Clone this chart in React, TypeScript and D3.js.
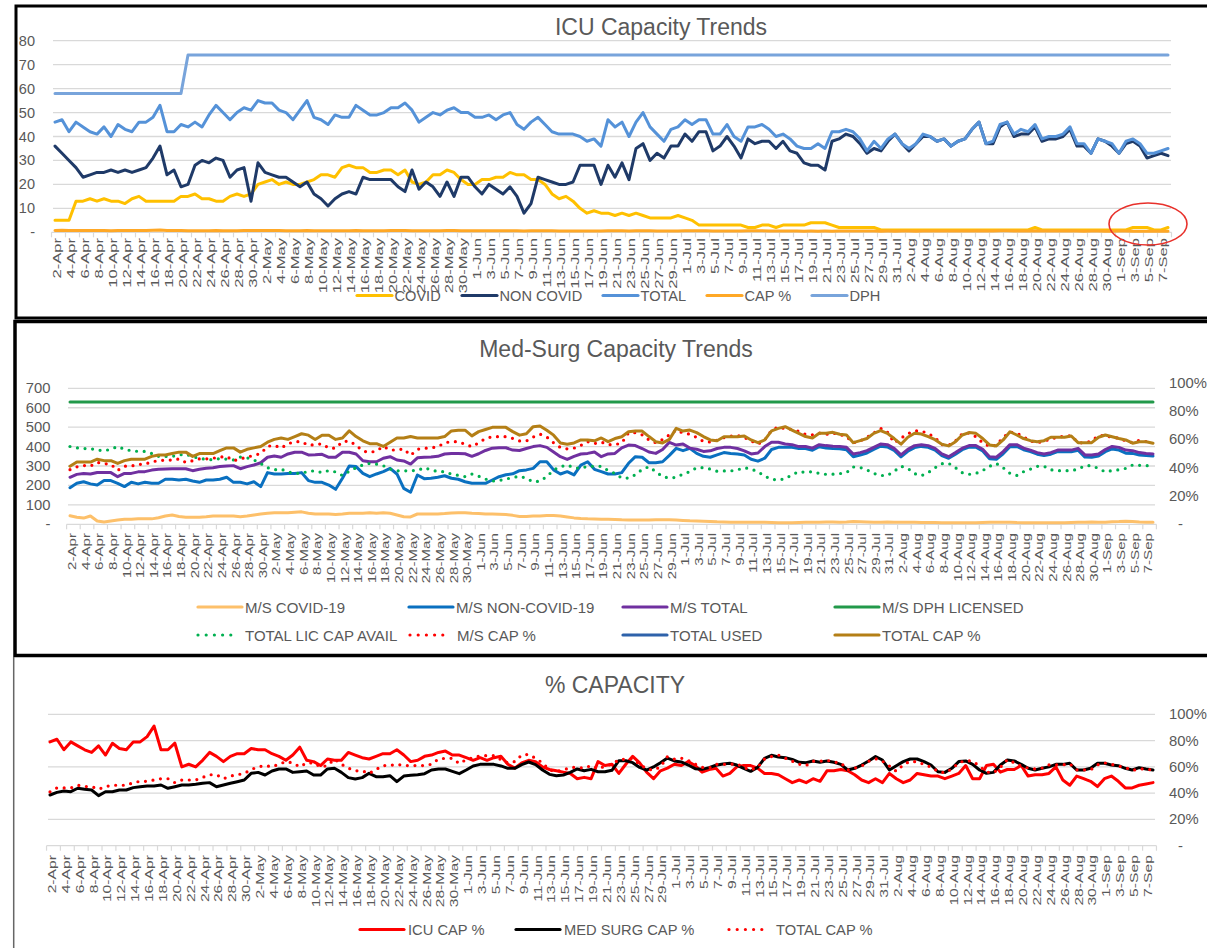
import React from "react";
import * as d3 from "d3";

// categories: one per day, 2-Apr .. 8-Sep
const DAYS = d3.timeDay.range(new Date(2020, 3, 2), new Date(2020, 8, 9));
const DATE_LABELS = DAYS.map(d3.timeFormat("%-d-%b"));

// ---- ICU ----
const ICU_COVID = [
  5, 5, 5, 13, 13, 14, 13, 14, 13, 13, 12, 14, 15, 13, 13, 13, 13, 13, 15, 15,
  16, 14, 14, 13, 13, 15, 16, 15, 16, 20, 21, 22, 20, 21, 20, 20, 21, 22, 24, 24,
  23, 27, 28, 27, 27, 25, 25, 26, 26, 24, 26, 21, 20, 21, 24, 24, 26, 25, 22, 20,
  20, 22, 22, 23, 23, 25, 24, 24, 22, 22, 20, 16, 14, 15, 13, 10, 8, 9, 8, 8,
  7, 8, 7, 8, 7, 6, 6, 6, 6, 7, 6, 5, 3, 3, 3, 3, 3, 3, 3, 2,
  2, 3, 3, 2, 3, 3, 3, 3, 4, 4, 4, 3, 2, 2, 2, 2, 2, 2, 1, 1,
  1, 1, 1, 1, 1, 1, 1, 1, 1, 1, 1, 1, 1, 1, 1, 1, 1, 1, 1, 1,
  2, 1, 1, 1, 1, 1, 1, 1, 1, 1, 1, 1, 1, 1, 2, 2, 2, 1, 1, 2,
];
const ICU_NON_COVID = [
  36, 33, 30, 27, 23, 24, 25, 25, 26, 25, 26, 25, 26, 27, 31, 36, 24, 26, 19, 20,
  28, 30, 29, 31, 30, 23, 26, 27, 13, 29, 25, 24, 23, 23, 21, 19, 21, 16, 14, 11,
  14, 16, 17, 16, 23, 22, 22, 22, 22, 19, 17, 26, 18, 21, 19, 15, 21, 15, 23, 23,
  19, 16, 20, 18, 16, 19, 15, 8, 12, 23, 22, 21, 20, 20, 21, 28, 28, 28, 20, 28,
  23, 29, 22, 35, 37, 30, 33, 31, 36, 36, 41, 38, 42, 42, 34, 36, 40, 36, 31, 39,
  37, 38, 38, 35, 38, 34, 33, 29, 28, 28, 26, 38, 39, 41, 40, 37, 33, 35, 34, 38,
  41, 37, 34, 37, 40, 40, 38, 39, 36, 38, 39, 43, 46, 37, 37, 44, 46, 40, 41, 41,
  44, 38, 39, 39, 40, 43, 36, 36, 33, 39, 38, 36, 33, 37, 38, 36, 31, 32, 33, 32,
];
const ICU_TOTAL = [
  46, 47, 42, 46, 44, 42, 41, 44, 40, 45, 43, 42, 46, 46, 48, 53, 42, 42, 45, 44,
  46, 44, 49, 53, 50, 47, 50, 52, 51, 55, 54, 54, 51, 50, 47, 51, 55, 48, 47, 45,
  49, 48, 48, 53, 51, 49, 49, 50, 52, 52, 54, 51, 46, 48, 50, 49, 51, 52, 50, 50,
  48, 48, 49, 47, 49, 50, 45, 43, 46, 48, 45, 42, 41, 41, 41, 40, 38, 39, 36, 47,
  44, 46, 40, 46, 50, 44, 41, 38, 43, 44, 47, 45, 47, 47, 41, 41, 45, 40, 38, 44,
  44, 45, 43, 40, 41, 39, 36, 35, 35, 37, 35, 42, 42, 43, 42, 39, 34, 38, 35, 39,
  41, 37, 35, 37, 41, 40, 38, 39, 36, 38, 39, 43, 46, 37, 38, 45, 46, 41, 43, 42,
  45, 39, 40, 40, 41, 44, 37, 37, 33, 39, 38, 37, 33, 38, 39, 37, 33, 33, 34, 35,
];
const ICU_DPH = [
  58, 58, 58, 58, 58, 58, 58, 58, 58, 58, 58, 58, 58, 58, 58, 58, 58, 58, 58, 74,
  74, 74, 74, 74, 74, 74, 74, 74, 74, 74, 74, 74, 74, 74, 74, 74, 74, 74, 74, 74,
  74, 74, 74, 74, 74, 74, 74, 74, 74, 74, 74, 74, 74, 74, 74, 74, 74, 74, 74, 74,
  74, 74, 74, 74, 74, 74, 74, 74, 74, 74, 74, 74, 74, 74, 74, 74, 74, 74, 74, 74,
  74, 74, 74, 74, 74, 74, 74, 74, 74, 74, 74, 74, 74, 74, 74, 74, 74, 74, 74, 74,
  74, 74, 74, 74, 74, 74, 74, 74, 74, 74, 74, 74, 74, 74, 74, 74, 74, 74, 74, 74,
  74, 74, 74, 74, 74, 74, 74, 74, 74, 74, 74, 74, 74, 74, 74, 74, 74, 74, 74, 74,
  74, 74, 74, 74, 74, 74, 74, 74, 74, 74, 74, 74, 74, 74, 74, 74, 74, 74, 74, 74,
];
// ICU CAP % (fraction) – shown in ICU panel and % CAPACITY panel
const ICU_CAP = [
  .79, .81, .73, .79, .76, .73, .71, .76, .69, .78, .74, .73, .79, .79, .83, .91, .73, .73, .78, .60,
  .62, .60, .65, .71, .68, .64, .68, .70, .70, .74, .73, .73, .70, .68, .65, .69, .75, .65, .64, .61,
  .66, .65, .65, .71, .69, .67, .66, .68, .70, .70, .73, .69, .64, .65, .68, .69, .71, .72, .69, .69,
  .67, .65, .67, .65, .67, .68, .62, .59, .63, .65, .64, .60, .58, .57, .56, .55, .51, .52, .51, .64,
  .61, .62, .55, .62, .68, .63, .56, .51, .57, .59, .62, .61, .64, .61, .56, .58, .59, .53, .55, .60,
  .61, .61, .59, .55, .55, .54, .51, .48, .50, .48, .51, .49, .57, .57, .58, .57, .54, .50, .48, .51,
  .48, .55, .51, .48, .50, .55, .54, .53, .53, .51, .53, .55, .61, .51, .51, .61, .62, .56, .58, .58,
  .61, .53, .54, .54, .55, .60, .50, .46, .53, .51, .49, .45, .51, .53, .49, .44, .44, .46, .47, .48,
];

// ---- Med-Surg ----
const MS_COVID = [
  44, 36, 32, 43, 17, 12, 17, 22, 26, 26, 28, 28, 28, 34, 43, 48, 40, 36, 36, 36,
  39, 43, 43, 43, 43, 39, 43, 48, 53, 57, 60, 60, 60, 62, 64, 57, 53, 53, 53, 50,
  53, 57, 57, 57, 60, 57, 60, 57, 48, 39, 38, 53, 53, 53, 53, 55, 58, 60, 60, 57,
  55, 53, 53, 52, 50, 46, 40, 40, 43, 43, 45, 45, 43, 38, 33, 30, 28, 27, 26, 26,
  25, 23, 22, 22, 22, 22, 23, 24, 24, 22, 20, 18, 17, 16, 15, 13, 12, 11, 11, 11,
  11, 11, 10, 9, 8, 8, 8, 9, 10, 11, 11, 12, 12, 11, 12, 14, 13, 12, 11, 11,
  12, 11, 10, 10, 10, 9, 9, 9, 8, 8, 8, 8, 8, 8, 9, 10, 10, 11, 11, 9,
  8, 8, 8, 8, 8, 8, 8, 9, 10, 11, 12, 11, 11, 13, 14, 16, 14, 12, 11, 11,
];
const MS_NON_COVID = [
  188, 211, 219, 208, 202, 225, 225, 211, 194, 216, 208, 216, 211, 211, 232, 232, 228, 232, 223, 216,
  228, 228, 232, 242, 216, 216, 208, 219, 194, 266, 259, 259, 262, 262, 266, 225, 216, 216, 202, 180,
  237, 300, 297, 262, 245, 259, 271, 288, 259, 185, 165, 254, 235, 237, 242, 250, 237, 232, 219, 211,
  211, 211, 228, 245, 255, 260, 276, 280, 288, 322, 322, 280, 259, 271, 254, 305, 322, 283, 271, 259,
  259, 266, 314, 348, 345, 317, 317, 322, 355, 391, 379, 391, 365, 350, 345, 357, 369, 365, 362, 357,
  335, 325, 340, 385, 396, 396, 396, 390, 390, 381, 399, 393, 390, 389, 384, 348, 356, 367, 385, 402,
  398, 380, 347, 376, 395, 401, 396, 382, 354, 340, 361, 384, 397, 397, 377, 338, 335, 363, 399, 401,
  384, 374, 361, 354, 361, 374, 374, 373, 381, 346, 345, 351, 374, 388, 382, 366, 365, 357, 354, 351,
];
const MS_TOTAL = [
  242, 257, 262, 259, 267, 267, 266, 245, 262, 262, 270, 271, 279, 283, 285, 286, 286, 286, 276, 283,
  288, 291, 297, 300, 302, 286, 297, 305, 317, 345, 352, 345, 362, 371, 371, 357, 358, 360, 345, 345,
  371, 371, 362, 327, 322, 322, 340, 348, 331, 326, 310, 342, 345, 347, 350, 362, 365, 365, 363, 350,
  363, 380, 392, 394, 394, 382, 380, 390, 400, 405, 396, 372, 348, 334, 350, 362, 365, 372, 348, 362,
  365, 393, 408, 405, 390, 372, 365, 385, 422, 408, 413, 392, 386, 375, 378, 390, 396, 396, 390, 378,
  362, 367, 400, 422, 422, 413, 410, 400, 400, 392, 410, 405, 402, 400, 396, 362, 369, 379, 396, 413,
  410, 391, 357, 386, 405, 410, 405, 391, 362, 348, 369, 392, 405, 405, 386, 348, 345, 374, 410, 410,
  392, 382, 369, 362, 369, 382, 382, 382, 391, 357, 357, 362, 385, 401, 396, 382, 379, 369, 365, 362,
];
const MS_DPH_LICENSED = [
  630, 630, 630, 630, 630, 630, 630, 630, 630, 630, 630, 630, 630, 630, 630, 630, 630, 630, 630, 630,
  630, 630, 630, 630, 630, 630, 630, 630, 630, 630, 630, 630, 630, 630, 630, 630, 630, 630, 630, 630,
  630, 630, 630, 630, 630, 630, 630, 630, 630, 630, 630, 630, 630, 630, 630, 630, 630, 630, 630, 630,
  630, 630, 630, 630, 630, 630, 630, 630, 630, 630, 630, 630, 630, 630, 630, 630, 630, 630, 630, 630,
  630, 630, 630, 630, 630, 630, 630, 630, 630, 630, 630, 630, 630, 630, 630, 630, 630, 630, 630, 630,
  630, 630, 630, 630, 630, 630, 630, 630, 630, 630, 630, 630, 630, 630, 630, 630, 630, 630, 630, 630,
  630, 630, 630, 630, 630, 630, 630, 630, 630, 630, 630, 630, 630, 630, 630, 630, 630, 630, 630, 630,
  630, 630, 630, 630, 630, 630, 630, 630, 630, 630, 630, 630, 630, 630, 630, 630, 630, 630, 630, 630,
];
const TOTAL_LIC_CAP_AVAIL = [
  .55, .54, .535, .535, .525, .52, .53, .55, .53, .52, .515, .515, .50, .48, .48, .48, .49, .495, .48, .465,
  .46, .455, .465, .46, .455, .475, .47, .455, .43, .40, .385, .39, .37, .36, .36, .375, .378, .365, .38, .37,
  .345, .375, .40, .42, .43, .425, .414, .39, .378, .377, .38, .38, .40, .385, .372, .372, .355, .346, .337, .355,
  .34, .32, .305, .31, .32, .33, .34, .325, .30, .305, .337, .384, .407, .419, .40, .396, .41, .41, .41, .38,
  .36, .327, .327, .35, .388, .407, .372, .337, .327, .332, .355, .372, .40, .40, .39, .375, .377, .377, .385, .40,
  .39, .372, .34, .318, .313, .322, .35, .372, .367, .372, .36, .353, .354, .358, .365, .405, .402, .385, .36, .345,
  .345, .375, .41, .395, .358, .344, .365, .40, .428, .431, .40, .365, .353, .36, .38, .41, .43, .40, .36, .345,
  .372, .39, .41, .41, .385, .379, .379, .379, .39, .414, .414, .395, .37, .38, .385, .395, .419, .417, .414, .414,
];
// M/S CAP % == MED SURG CAP %
const MS_CAP = [
  .386, .406, .416, .411, .437, .429, .424, .381, .411, .411, .424, .424, .442, .449, .454, .454, .462, .437, .449, .462,
  .462, .467, .475, .48, .449, .462, .475, .487, .50, .551, .558, .538, .569, .584, .584, .558, .563, .569, .538, .538,
  .584, .589, .558, .518, .508, .518, .551, .525, .525, .533, .487, .53, .537, .54, .548, .576, .584, .584, .566, .548,
  .576, .607, .619, .619, .619, .607, .589, .589, .617, .637, .617, .576, .543, .533, .538, .558, .584, .571, .581, .563,
  .563, .574, .647, .647, .632, .596, .576, .599, .632, .667, .645, .637, .614, .586, .581, .594, .612, .622, .627, .614,
  .589, .566, .596, .665, .688, .675, .67, .657, .635, .632, .645, .635, .645, .635, .619, .576, .589, .614, .645, .678,
  .652, .576, .609, .64, .66, .66, .64, .614, .563, .558, .589, .64, .645, .619, .576, .551, .558, .614, .652, .645,
  .619, .589, .576, .589, .60, .619, .619, .627, .576, .576, .589, .627, .627, .614, .609, .589, .576, .594, .584, .576,
];
// TOTAL CAP %
const TOTAL_CAP = [
  .41, .44, .44, .44, .46, .45, .45, .43, .45, .46, .46, .46, .48, .49, .49, .50, .51, .51, .48, .50,
  .50, .50, .52, .54, .54, .51, .53, .54, .55, .58, .60, .61, .60, .62, .64, .63, .60, .63, .63, .60,
  .61, .66, .62, .59, .57, .57, .55, .58, .61, .61, .62, .61, .61, .61, .61, .62, .66, .665, .665, .625,
  .655, .67, .685, .685, .685, .655, .63, .64, .69, .695, .665, .63, .575, .566, .575, .596, .596, .59, .61, .584,
  .606, .619, .654, .659, .659, .62, .584, .575, .60, .678, .659, .666, .648, .62, .596, .591, .619, .619, .619, .624,
  .596, .577, .596, .66, .678, .69, .666, .643, .62, .61, .643, .643, .65, .636, .631, .577, .591, .606, .643, .662,
  .643, .606, .566, .615, .643, .638, .619, .598, .566, .554, .584, .631, .648, .643, .606, .561, .554, .596, .654, .631,
  .606, .591, .584, .591, .615, .615, .615, .624, .577, .577, .577, .615, .631, .619, .606, .596, .573, .584, .584, .573,
];

const FONT = "'Liberation Sans', Arial, Helvetica, sans-serif";
const TXT = "#595959";
const GRID = "#d9d9d9";

type Series = { name: string; values: number[] | null; color: string; width: number; dotted?: boolean; right?: boolean };

const ICU_SERIES: Series[] = [
  { name: "COVID", values: ICU_COVID, color: "#FFC000", width: 3 },
  { name: "NON COVID", values: ICU_NON_COVID, color: "#1F3A68", width: 3 },
  { name: "TOTAL", values: ICU_TOTAL, color: "#5592D8", width: 3 },
  { name: "CAP %", values: ICU_CAP, color: "#FFA826", width: 3 },
  { name: "DPH", values: ICU_DPH, color: "#78A4DB", width: 3 },
];
const ICU_LEGEND_X = [357, 462, 603, 707, 812];

const MS_SERIES: Series[] = [
  { name: "M/S COVID-19", values: MS_COVID, color: "#FDC06A", width: 3 },
  { name: "M/S NON-COVID-19", values: MS_NON_COVID, color: "#0A70C0", width: 3 },
  { name: "M/S TOTAL", values: MS_TOTAL, color: "#7030A0", width: 3 },
  { name: "M/S DPH LICENSED", values: MS_DPH_LICENSED, color: "#22994A", width: 3 },
  { name: "TOTAL LIC CAP AVAIL", values: TOTAL_LIC_CAP_AVAIL, color: "#00B050", width: 3, dotted: true, right: true },
  { name: "M/S CAP %", values: MS_CAP, color: "#FF0000", width: 3, dotted: true, right: true },
  { name: "TOTAL USED", values: null, color: "#2E62AA", width: 3 },
  { name: "TOTAL CAP %", values: TOTAL_CAP, color: "#B47F16", width: 3, right: true },
];
const MS_LEGEND_POS = [[198, 607], [409, 607], [623, 607], [835, 607], [198, 635], [410, 635], [623, 635], [835, 635]];

const PCT_SERIES: Series[] = [
  { name: "ICU CAP %", values: ICU_CAP, color: "#FF0000", width: 3 },
  { name: "MED SURG CAP %", values: MS_CAP, color: "#000000", width: 3 },
  { name: "TOTAL CAP %", values: TOTAL_CAP, color: "#FF0000", width: 3, dotted: true },
];
const PCT_LEGEND_X = [360, 516, 729];

function SeriesPath({ s, x, y }: { s: Series; x: any; y: any }) {
  if (!s.values) return null;
  const line = d3.line<number>().x((_, i) => x(i)).y((d) => y(d));
  return (
    <path d={line(s.values) || ""} fill="none" stroke={s.color} strokeWidth={s.dotted ? 3.2 : s.width}
      strokeLinejoin="round" strokeLinecap="round" strokeDasharray={s.dotted ? "0 7.6" : undefined} />
  );
}

function LegendItem({ s, x, y, len, gap, size }: { s: Series; x: number; y: number; len: number; gap: number; size: number }) {
  return (
    <g>
      <line x1={x} x2={x + len} y1={y} y2={y} stroke={s.color} strokeWidth={s.dotted ? 3.2 : 3.2}
        strokeLinecap="round" strokeDasharray={s.dotted ? "0 8.2" : undefined} />
      <text x={x + len + gap} y={y} dominantBaseline="central" fontSize={size} fill={TXT}>{s.name}</text>
    </g>
  );
}

function CategoryAxis({ x, y, labelY, size, sx }: { x: any; y: number; labelY: number; size: number; sx: number }) {
  const n = DATE_LABELS.length;
  const step = x(1) - x(0);
  const ticks = d3.range(0, n + 1, 2).map((i) => x(0) + (i - 0.5) * step);
  return (
    <g>
      <line x1={x(0) - step / 2} x2={x(n - 1) + step / 2} y1={y} y2={y} stroke={GRID} strokeWidth={1.3} />
      {ticks.map((t, k) => (
        <line key={k} x1={t} x2={t} y1={y} y2={y + 5} stroke={GRID} strokeWidth={1.2} />
      ))}
      {DATE_LABELS.map((lab, i) =>
        i % 2 === 0 ? (
          <text key={i} transform={`translate(${x(i) + 2.5},${labelY}) rotate(-90) scale(${sx},1)`}
            textAnchor="end" dominantBaseline="central" fontSize={size} fill={TXT}>{lab}</text>
        ) : null
      )}
    </g>
  );
}

export default function App() {
  const n = DATE_LABELS.length;

  // ICU panel scales
  const xA = d3.scaleLinear().domain([0, n - 1]).range([55, 1168]);
  const yA = d3.scaleLinear().domain([0, 80]).range([232.3, 40.7]);
  // Med-Surg panel scales
  const xB = d3.scaleLinear().domain([0, n - 1]).range([70, 1153]);
  const yB = d3.scaleLinear().domain([0, 700]).range([524.3, 388.3]);
  const yBR = d3.scaleLinear().domain([0, 1]).range([524.3, 382.8]);
  // % capacity panel scales
  const xC = d3.scaleLinear().domain([0, n - 1]).range([50, 1153]);
  const yC = d3.scaleLinear().domain([0, 1]).range([845.7, 714.3]);

  const pct = (v: number) => (v === 0 ? "-" : `${Math.round(v * 100)}%`);

  return (
    <svg width={1207} height={948} style={{ position: "absolute", left: 0, top: 0, background: "#fff" }}
      fontFamily={FONT}>
      <rect x={0} y={0} width={1207} height={948} fill="#fff" />

      {/* ===== ICU Capacity Trends ===== */}
      <g>
        {d3.range(10, 81, 10).map((v) => (
          <line key={v} x1={53} x2={1171} y1={yA(v)} y2={yA(v)} stroke={GRID} strokeWidth={1.3} />
        ))}
        {d3.range(0, 81, 10).map((v) => (
          <text key={v} x={35} y={yA(v)} textAnchor="end" dominantBaseline="central" fontSize={14.5} fill={TXT}>
            {v === 0 ? "-" : v}
          </text>
        ))}
        <CategoryAxis x={xA} y={232.3} labelY={238} size={10} sx={1.66} />
        {ICU_SERIES.map((s) => <SeriesPath key={s.name} s={s} x={xA} y={yA} />)}
        <ellipse cx={1148} cy={224} rx={39} ry={21} fill="none" stroke="#E8312B" strokeWidth={1.6} />
        <text x={661} y={27} textAnchor="middle" dominantBaseline="central" fontSize={23} fill={TXT}>ICU Capacity Trends</text>
        {ICU_SERIES.map((s, k) => (
          <LegendItem key={s.name} s={s} x={ICU_LEGEND_X[k]} y={295.5} len={35} gap={2.5} size={14.6} />
        ))}
        <rect x={16} y={6} width={1200} height={312} fill="none" stroke="#000" strokeWidth={3} />
      </g>

      {/* ===== Med-Surg Capacity Trends ===== */}
      <g>
        {d3.range(100, 701, 100).map((v) => (
          <line key={v} x1={68} x2={1155} y1={yB(v)} y2={yB(v)} stroke={GRID} strokeWidth={1.3} />
        ))}
        {d3.range(0, 701, 100).map((v) => (
          <text key={v} x={50.5} y={yB(v)} textAnchor="end" dominantBaseline="central" fontSize={14.8} fill={TXT}>
            {v === 0 ? "-" : v}
          </text>
        ))}
        {d3.range(0, 1.01, 0.2).map((v) => (
          <text key={v} x={v === 0 ? 1178 : 1169} y={yBR(v)} dominantBaseline="central" fontSize={14.8} fill={TXT}>
            {pct(v)}
          </text>
        ))}
        <CategoryAxis x={xB} y={524.3} labelY={533} size={10.5} sx={1.44} />
        {MS_SERIES.map((s) => <SeriesPath key={s.name} s={s} x={xB} y={s.right ? yBR : yB} />)}
        <text x={616} y={349} textAnchor="middle" dominantBaseline="central" fontSize={23} fill={TXT}>Med-Surg Capacity Trends</text>
        {MS_SERIES.map((s, k) => (
          <LegendItem key={s.name} s={s} x={MS_LEGEND_POS[k][0]} y={MS_LEGEND_POS[k][1]}
            len={s.dotted ? 36 : 44} gap={s.dotted ? 11 : 3} size={15} />
        ))}
        <rect x={15} y={321.5} width={1200} height={334} fill="none" stroke="#000" strokeWidth={3.5} />
      </g>

      {/* ===== % CAPACITY ===== */}
      <g>
        {d3.range(0.2, 1.01, 0.2).map((v) => (
          <line key={v} x1={48} x2={1155} y1={yC(v)} y2={yC(v)} stroke={GRID} strokeWidth={1.3} />
        ))}
        {d3.range(0, 1.01, 0.2).map((v) => (
          <text key={v} x={v === 0 ? 1178 : 1169} y={yC(v)} dominantBaseline="central" fontSize={14.8} fill={TXT}>
            {pct(v)}
          </text>
        ))}
        <CategoryAxis x={xC} y={845.7} labelY={855} size={10} sx={1.57} />
        {PCT_SERIES.map((s) => <SeriesPath key={s.name} s={s} x={xC} y={yC} />)}
        <text x={615} y={685} textAnchor="middle" dominantBaseline="central" fontSize={23} fill={TXT}>% CAPACITY</text>
        {PCT_SERIES.map((s, k) => (
          <LegendItem key={s.name} s={s} x={PCT_LEGEND_X[k]} y={929.5}
            len={s.dotted ? 36 : 44} gap={s.dotted ? 11 : 4} size={14.7} />
        ))}
        <line x1={13.7} x2={13.7} y1={657} y2={948} stroke="#666" strokeWidth={1.5} />
      </g>
    </svg>
  );
}
